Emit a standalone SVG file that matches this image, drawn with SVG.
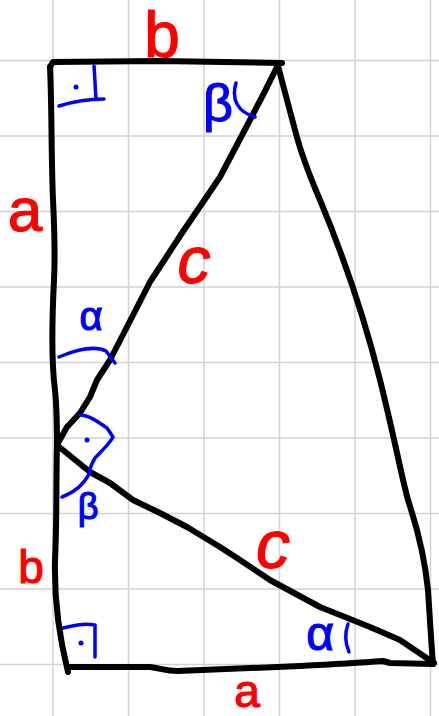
<svg xmlns="http://www.w3.org/2000/svg" width="439" height="716" viewBox="0 0 439 716">
<style>
.grid{stroke:#d2d2d2;stroke-width:1.5;fill:none}
.ink{stroke:#000;stroke-width:6;fill:none;stroke-linecap:round;stroke-linejoin:round}
.blue{stroke:#0000ff;stroke-width:3.5;fill:none;stroke-linecap:round;stroke-linejoin:round}
.red{fill:#ff0000;stroke:#ff0000;stroke-width:1.2;font-family:"Liberation Sans","DejaVu Sans",sans-serif;text-anchor:middle}
.bl{fill:#0000ff;stroke:#0000ff;stroke-width:1.2;font-family:"Liberation Sans","DejaVu Sans",sans-serif;text-anchor:middle}
.it{font-style:italic}
</style>
<rect width="439" height="716" fill="#fff"/>
<g id="grid">
<path class="grid" d="M53,0V716M128.5,0V716M204,0V716M279.5,0V716M355,0V716M430.5,0V716"/>
<path class="grid" d="M0,60.5H439M0,136H439M0,211.5H439M0,287H439M0,362.5H439M0,438H439M0,513.5H439M0,589H439M0,664.5H439"/>
</g>
<g id="figure">
<path class="ink" d="M50,67 L53,62 L160,61 L282,63"/>
<path class="ink" d="M50,67 C52,110 51,150 53,200 C55,240 55,260 54,280 C52,320 51,360 55,390 C57,410 57,430 57,445 C56,480 57,520 55,560 C54,600 60,640 68,672"/>
<path class="ink" d="M68,667 L150,667 C160,668 165,671 178,671 C200,670 250,668 300,666 C340,664 370,662 383,661 L390,663 L433,664"/>
<path class="ink" d="M278,66 L287,100 L295,130 C300,150 305,165 320,200 C345,260 365,320 380,380 C395,440 400,470 408,500 C418,530 425,560 428,590 C430,620 431,640 433,664"/>
<path class="ink" d="M58,443 L67,427 L80,413 L90,397 L97,380 L110,360 L150,282 L182,233 L220,177 L250,120 L263,95 L277,67"/>
<path class="ink" d="M58,446 L90,472 L110,483 L133,500 L160,513 L187,527 L220,547 L237,558 L270,580 L320,607 L370,627 L400,640 L434,663"/>
</g>
<g id="marks">
<path class="blue" d="M59,106 C75,101 90,99 104,99 M94,66 C95,77 95,88 96,98"/>
<circle cx="76" cy="87" r="2.5" fill="#0000ff"/>
<path class="blue" d="M63,628 L72,626 C80,624 90,624 95,625 L95,657"/>
<circle cx="81" cy="643" r="2.5" fill="#0000ff"/>
<path class="blue" d="M59,357 C78,349 96,346 106,351 L115,363"/>
<path class="blue" d="M80,415 C88,415 97,421 107,428 L113,437 C108,446 100,452 95,458 C92,463 90,467 89,474 C84,484 75,492 62,497"/>
<circle cx="87" cy="440" r="2.5" fill="#0000ff"/>
<path class="blue" d="M236,83 C231,100 238,112 255,117"/>
<path class="blue" d="M348,624 C344,635 346,645 349,652"/>
</g>
<g id="labels">
<text class="red" x="162" y="57" font-size="64">b</text>
<text class="red" x="25" y="231" font-size="62">a</text>
<text class="red it" x="194" y="283" font-size="66">c</text>
<text class="red it" x="273" y="568" font-size="68">c</text>
<text class="red" x="31" y="583" font-size="46">b</text>
<text class="red" x="247" y="707" font-size="46">a</text>
<text class="bl" x="218" y="121" font-size="52">β</text>
<text class="bl" x="91" y="330" font-size="40">α</text>
<text class="bl" x="88" y="519" font-size="36">β</text>
<text class="bl" x="320" y="650" font-size="48">α</text>
</g>
</svg>
